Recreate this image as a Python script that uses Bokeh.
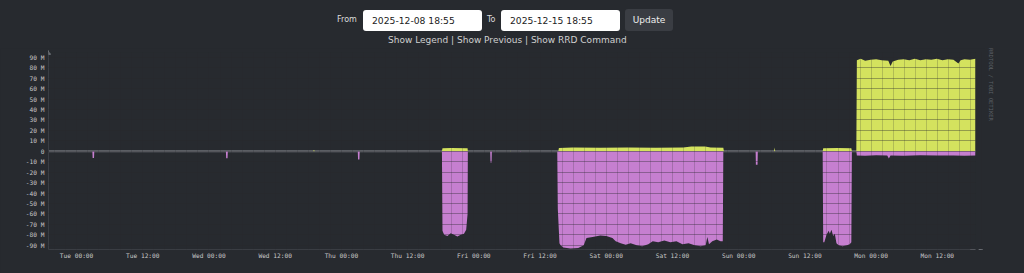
import math
from bokeh.plotting import figure
from bokeh.models import (Range1d, FixedTicker, Span, Div, Arrow, NormalHead)
from bokeh.layouts import column, row
from bokeh.embed import file_html
from bokeh.resources import INLINE

# ---------------- data (hours since 2025-12-08 18:55, values in M) ----------------
in_hours = [0, 47.9, 48.0, 48.2, 48.3, 71.3, 71.4, 73.0, 75.9, 75.95, 76.0,
            83.6, 83.7, 83.8, 92.4, 92.5, 95.0, 100.0, 105.0, 110.0, 115.0, 116.5,
            119.0, 120.0, 122.3, 122.4, 131.5, 131.6, 131.7, 140.3, 140.4, 143.0,
            145.5, 145.6, 146.4, 146.5, 147.2, 148.0, 149.0, 150.0, 151.0, 152.2,
            152.6, 153.0, 154.0, 155.0, 156.0, 157.0, 158.0, 159.0, 160.0, 161.0,
            162.0, 163.0, 164.0, 164.9, 165.3, 166.0, 167.0, 168.0]
in_values = [0, 0, 0.8, 0.8, 0, 0, 3.0, 3.2, 3.0, 3.0, 0,
             0, 0.6, 0, 0, 3.2, 3.5, 3.3, 3.5, 3.4, 3.6, 4.5,
             4.6, 3.6, 3.4, 0, 0, 3.5, 0, 0, 3.0, 3.2,
             3.0, 0, 0, 87.0, 88.5, 86.5, 87.5, 88.0, 87.0, 86.5,
             81.5, 86.0, 87.5, 88.0, 87.0, 88.5, 87.0, 88.0, 87.5, 88.5,
             87.0, 88.0, 87.5, 84.0, 87.0, 88.0, 87.5, 88.5]

out_hours = [0, 7.95, 8.0, 8.25, 8.3, 32.15, 32.2, 32.45, 32.5, 56.05, 56.1, 56.35, 56.4,
             71.3, 71.4, 71.7, 72.3, 72.9, 73.5, 74.1, 74.7, 75.3, 75.7, 75.95, 76.0,
             80.05, 80.1, 80.3, 80.35, 85.4, 85.5, 85.6,
             92.2, 92.3, 92.6, 92.8, 93.3, 94.6, 96.0, 97.0, 97.5, 98.6, 100.0, 101.1,
             102.2, 102.8, 103.7, 104.6, 105.5, 106.6, 107.6, 108.7, 109.5, 110.5,
             111.6, 112.7, 113.8, 114.9, 116.0, 117.1, 118.2, 119.1, 119.4, 119.7,
             120.3, 121.1, 121.8, 122.2, 122.3,
             128.15, 128.2, 128.5, 128.55,
             140.3, 140.4, 140.6, 141.0, 141.4, 141.6, 141.9, 142.2, 142.5, 142.8,
             143.2, 143.9, 144.7, 145.2, 145.5, 145.6,
             146.4, 146.5, 148.0, 150.0, 152.0, 152.3, 152.6, 155.0, 158.0, 161.0,
             164.0, 166.0, 168.0]
out_values = [0, 0, -6.4, -6.4, 0, 0, -6.7, -6.7, 0, 0, -8.0, -8.0, 0,
              0, -76, -80, -81, -78.5, -80, -81.5, -80, -79, -75, -60, 0,
              0, -10.7, -10.7, 0, 0, -0.6, 0,
              0, -55, -88, -90, -92, -93, -92.5, -90, -83, -82, -80.5, -81,
              -83, -86, -88, -89.5, -88, -90, -91, -89, -86, -87,
              -85.5, -87, -86, -89, -88, -90, -91, -90, -82, -89,
              -86, -84.5, -86, -86, 0,
              0, -13, -13, 0,
              0, -87, -87, -80, -76, -79, -75, -81, -79, -88,
              -90, -91, -90, -89, -87, 0,
              0, -4.0, -4.2, -3.8, -4.0, -7.0, -4.0, -4.2, -3.9, -4.1,
              -4.0, -4.2, -4.0]

x_tick_labels = ["Tue 00:00", "Tue 12:00", "Wed 00:00", "Wed 12:00", "Thu 00:00",
                 "Thu 12:00", "Fri 00:00", "Fri 12:00", "Sat 00:00", "Sat 12:00",
                 "Sun 00:00", "Sun 12:00", "Mon 00:00", "Mon 12:00"]
first_tick = 5 + 5 / 60.0  # Tue 00:00 after start 18:55
x_ticks = [first_tick + 12 * i for i in range(len(x_tick_labels))]
x_minor = [first_tick - 4 + 2 * i for i in range(0, 86) if i % 6 != 2]

y_ticks = [-90, -80, -70, -60, -50, -40, -30, -20, -10, 0, 10, 20, 30, 40, 50, 60, 70, 80, 90]
y_tick_labels = ["-90 M", "-80 M", "-70 M", "-60 M", "-50 M", "-40 M", "-30 M", "-20 M",
                 "-10 M", "0", "10 M", "20 M", "30 M", "40 M", "50 M", "60 M", "70 M",
                 "80 M", "90 M"]
y_minor = [v + 5 for v in range(-95, 95, 10)]

BG = "#272a2f"
GREEN = "#d4e25e"
PURPLE = "#c67fd0"

# ---------------- header ----------------
header_html = """
<div style="position:relative;width:1024px;height:48px;background:#272a2f;font-family:'DejaVu Sans',sans-serif;">
 <span style="position:absolute;left:337px;top:14px;font-size:8px;line-height:12px;color:#dcdcdc;">From</span>
 <span style="position:absolute;left:363px;top:10px;width:119px;height:21px;background:#ffffff;border-radius:3px;box-sizing:border-box;padding-left:9px;font-size:9.2px;line-height:21px;color:#222;">2025-12-08 18:55</span>
 <span style="position:absolute;left:487px;top:14px;font-size:8px;line-height:12px;color:#dcdcdc;">To</span>
 <span style="position:absolute;left:501px;top:10px;width:119px;height:21px;background:#ffffff;border-radius:3px;box-sizing:border-box;padding-left:9px;font-size:9.2px;line-height:21px;color:#222;">2025-12-15 18:55</span>
 <span style="position:absolute;left:625px;top:9px;width:48px;height:22px;background:#3a3d43;border-radius:3px;font-size:9px;line-height:22px;text-align:center;color:#eeeeee;">Update</span>
 <span style="position:absolute;left:388px;width:234px;top:34px;font-size:9px;line-height:12px;text-align:center;white-space:nowrap;color:#d0d0d0;">Show Legend | Show Previous | Show RRD Command</span>
</div>
"""
header = Div(text=header_html, width=1024, height=48, margin=0,
             styles={"background-color": BG})

credit_html = """
<div style="position:relative;width:39px;height:225px;background:#272a2f;">
 <span style="position:absolute;left:3px;top:0px;writing-mode:vertical-rl;font-family:'DejaVu Sans Mono',monospace;font-size:5.5px;line-height:6px;color:#5c6066;white-space:nowrap;">RRDTOOL / TOBI OETIKER</span>
</div>
"""
credit = Div(text=credit_html, width=39, height=225, margin=0,
             styles={"background-color": BG})

# ---------------- chart ----------------
p = figure(width=985, height=225, output_backend="svg", toolbar_location=None,
           x_range=Range1d(0, 168), y_range=Range1d(-94, 94.5),
           min_border_left=48, min_border_right=10, min_border_top=4,
           min_border_bottom=24, background_fill_color=BG, border_fill_color=BG,
           outline_line_color=None, margin=0)

p.add_layout(Span(location=0, dimension="width", line_color="#6e7177",
                  line_width=2, level="underlay"))

p.varea(x=in_hours, y1=[0] * len(in_hours), y2=in_values, fill_color=GREEN)
p.varea(x=out_hours, y1=out_values, y2=[0] * len(out_hours), fill_color=PURPLE)

p.xaxis.ticker = FixedTicker(ticks=x_ticks, minor_ticks=x_minor)
p.xaxis.major_label_overrides = dict(zip(x_ticks, x_tick_labels))
p.yaxis.ticker = FixedTicker(ticks=y_ticks, minor_ticks=y_minor)
p.yaxis.major_label_overrides = dict(zip(y_ticks, y_tick_labels))

for ax in (p.xaxis[0], p.yaxis[0]):
    ax.axis_line_color = "#3a3d43"
    ax.major_tick_line_color = None
    ax.minor_tick_line_color = None
    ax.major_tick_out = 0
    ax.major_tick_in = 0
    ax.minor_tick_out = 0
    ax.minor_tick_in = 0
    ax.major_label_text_font = "DejaVu Sans Mono"
    ax.major_label_text_font_size = "6.2px"
    ax.major_label_text_color = "#c8c8c8"
p.xaxis.major_label_standoff = 2
p.yaxis.major_label_standoff = 4

for g in (p.xgrid[0], p.ygrid[0]):
    g.level = "overlay"
    g.grid_line_color = BG
    g.grid_line_alpha = 0.22
    g.minor_grid_line_color = BG
    g.minor_grid_line_alpha = 0.2

# axis-end arrows as in rrdtool
p.add_layout(Arrow(x_start=0, y_start=93, x_end=0, y_end=96.5, line_color="#6a6d73",
                   line_width=1, end=NormalHead(size=4, fill_color="#6a6d73",
                                                line_color="#6a6d73")))
p.add_layout(Arrow(x_start=167, y_start=-94, x_end=169.3, y_end=-94, line_color="#6a6d73",
                   line_width=1, end=NormalHead(size=4, fill_color="#6a6d73",
                                                line_color="#6a6d73")))

layout = column(header, row(p, credit, spacing=0, margin=0), spacing=0, margin=0,
                styles={"background-color": BG})

open("out.html", "w").write(file_html(layout, INLINE))
